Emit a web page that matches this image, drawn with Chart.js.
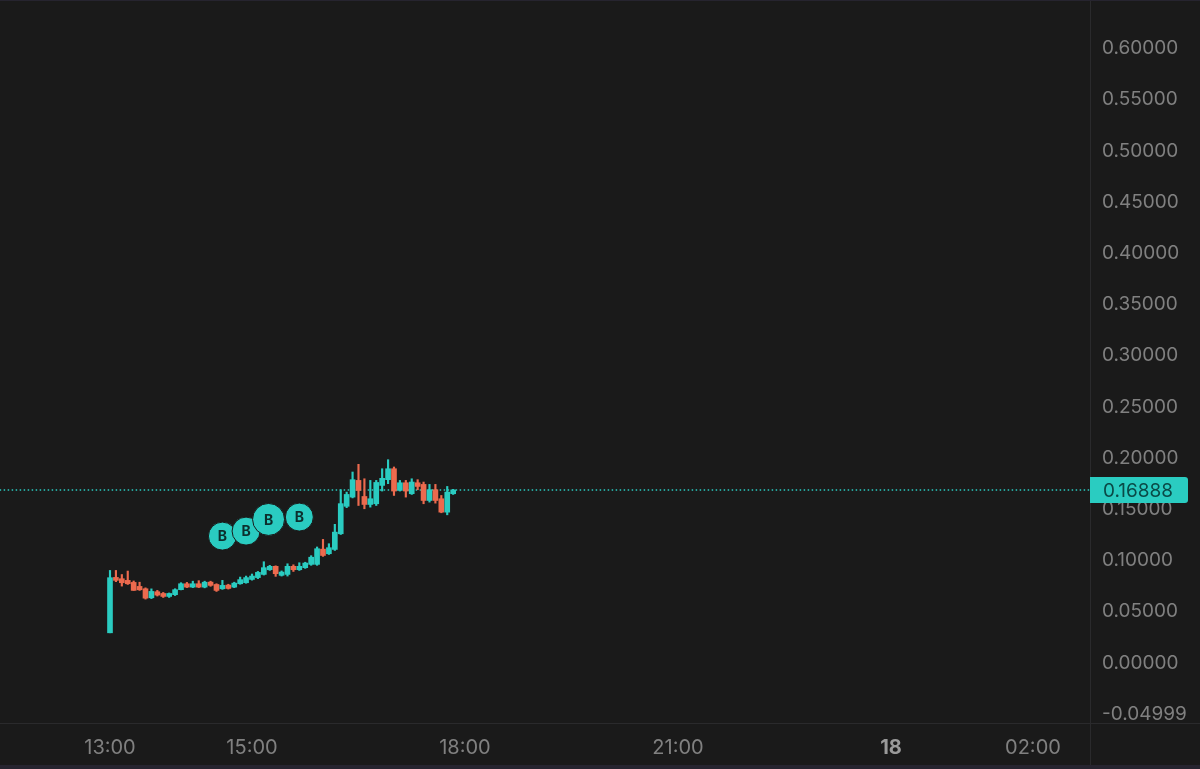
<!DOCTYPE html>
<html>
<head>
<meta charset="utf-8">
<title>Candles</title>
<script src="https://cdn.jsdelivr.net/npm/chart.js@4"></script>
<style>
  html, body { margin: 0; padding: 0; background: #1a1a1a; overflow: hidden; }
  canvas { display: block; }
</style>
</head>
<body>
<canvas id="myChart" width="1200" height="769"></canvas>
<script>
// minutes since midnight, 5 minute candles
const times = [780,785,790,795,800,805,810,815,820,825,830,835,840,845,850,855,860,865,870,875,880,885,890,895,900,905,910,915,920,925,930,935,940,945,950,955,960,965,970,975,980,985,990,995,1000,1005,1010,1015,1020,1025,1030,1035,1040,1045,1050,1055,1060,1065,1070]
const opens = [.0294,.0835,.0822,.0806,.0786,.0747,.0724,.0636,.0695,.0678,.0649,.0666,.0715,.0773,.0740,.0773,.0740,.0789,.0766,.0724,.0760,.0740,.0773,.0783,.0815,.0833,.0864,.0910,.0943,.0855,.0864,.0943,.0910,.0930,.0962,.0962,.1111,.1066,.1108,.1261,.1529,.1619,.1782,.1625,.1547,.1554,.1733,.1789,.1896,.1684,.1759,.1652,.1759,.1743,.1586,.1691,.1603,.1472,.1652]
const highs = [.0903,.0903,.0863,.0897,.0800,.0788,.0733,.0723,.0708,.0688,.0683,.0724,.0783,.0786,.0798,.0803,.0798,.0798,.0773,.0806,.0768,.0788,.0838,.0848,.0868,.0893,.0988,.0953,.0948,.0898,.0968,.0958,.0978,.0983,.1047,.1132,.1206,.1164,.1353,.1691,.1668,.1864,.1939,.1798,.1782,.1782,.1896,.1984,.1913,.1782,.1782,.1798,.1789,.1766,.1743,.1743,.1635,.1723,.1695]
const lows = [.0294,.0793,.0750,.0766,.0708,.0708,.0623,.0628,.0653,.0639,.0639,.0658,.0713,.0735,.0735,.0735,.0733,.0748,.0698,.0718,.0721,.0735,.0768,.0778,.0808,.0823,.0858,.0903,.0845,.0848,.0848,.0893,.0903,.0923,.0953,.0953,.1040,.1059,.1098,.1254,.1516,.1611,.1537,.1505,.1521,.1537,.1678,.1750,.1635,.1678,.1619,.1645,.1691,.1554,.1570,.1560,.1466,.1446,.1645]
const closes = [.0832,.0806,.0783,.0773,.0708,.0714,.0632,.0698,.0662,.0649,.0678,.0715,.0773,.0740,.0773,.0740,.0788,.0757,.0708,.0757,.0727,.0779,.0813,.0833,.0848,.0884,.0930,.0943,.0871,.0887,.0943,.0910,.0943,.0975,.1032,.1115,.1049,.1125,.1277,.1555,.1645,.1789,.1684,.1547,.1603,.1762,.1802,.1896,.1678,.1759,.1678,.1766,.1723,.1586,.1691,.1586,.1472,.1668,.16888]

// buy markers
const buyTimes = [875,895,914,940]
const buyPrices = [.1238,.1287,.1401,.1424]
const buyLabels = ['B','B','B','B']
const buyRadius = [14,14,16,14]

const lastPrice = 0.16888
const lastPriceLabel = '0.16888'
const yTicks = [0.6,0.55,0.5,0.45,0.4,0.35,0.3,0.25,0.2,0.15,0.1,0.05,0,-0.04999]
const xTicks = [780,900,1080,1260,1440,1560]
const xTickLabels = ['13:00','15:00','18:00','21:00','18','02:00']

const UP = '#2accc1'
const DOWN = '#ec6a4e'
const FONT = 'Inter, "Open Sans", sans-serif'

const candleColor = c => (closes[c.dataIndex] >= opens[c.dataIndex] ? UP : DOWN)

// frame lines, price badge and the B letters
const extras = {
  id: 'extras',
  afterDraw(chart) {
    const { ctx, chartArea, scales } = chart
    ctx.save()
    ctx.fillStyle = '#2a2a2c'
    ctx.fillRect(0, chartArea.bottom, 1200, 1)
    ctx.fillRect(chartArea.right, 0, 1, 765)
    ctx.fillStyle = '#26242f'
    ctx.fillRect(0, 0, 1200, 1)
    ctx.fillRect(0, 765, 1200, 4)

    // badge
    const y = scales.y.getPixelForValue(lastPrice)
    ctx.fillStyle = UP
    ctx.beginPath()
    ctx.roundRect(chartArea.right, Math.round(y) - 13, 98, 26, [0, 3, 3, 0])
    ctx.fill()
    ctx.fillStyle = '#0a4a47'
    ctx.font = '19px ' + FONT
    ctx.textAlign = 'left'
    ctx.textBaseline = 'middle'
    ctx.fillText(lastPriceLabel, 1103, y + 1)

    // letters on the buy markers
    ctx.fillStyle = '#0c2f2d'
    ctx.font = 'bold 14px ' + FONT
    ctx.textAlign = 'center'
    chart.getDatasetMeta(3).data.forEach((pt, i) => {
      ctx.fillText(buyLabels[i], pt.x, pt.y + 1)
    })
    ctx.restore()
  }
}

const ctx = document.getElementById('myChart')
const myChart = new Chart(ctx, {
  data: {
    datasets: [{
      type: 'bar',
      data: times.map((t, i) => ({ x: t, y: [lows[i], highs[i]] })),
      backgroundColor: candleColor,
      barThickness: 1.5,
      grouped: false,
      order: 3
    }, {
      type: 'bar',
      data: times.map((t, i) => ({ x: t, y: [opens[i], closes[i]] })),
      backgroundColor: candleColor,
      barThickness: 5,
      grouped: false,
      order: 2
    }, {
      type: 'line',
      data: [{ x: 680, y: lastPrice }, { x: 1620, y: lastPrice }],
      borderColor: UP,
      borderWidth: 1.5,
      borderDash: [1.5, 2.5],
      pointRadius: 0,
      order: 4
    }, {
      type: 'scatter',
      data: buyTimes.map((t, i) => ({ x: t, y: buyPrices[i] })),
      backgroundColor: UP,
      borderColor: '#1a1a1a',
      borderWidth: 1,
      pointRadius: buyRadius,
      pointHoverRadius: buyRadius,
      order: 1
    }]
  },
  options: {
    responsive: false,
    animation: false,
    layout: { padding: 0, autoPadding: false },
    plugins: {
      legend: { display: false },
      tooltip: { enabled: false }
    },
    scales: {
      x: {
        type: 'linear',
        offset: false,
        min: 687.04,
        max: 1608.2,
        grid: { display: false },
        border: { display: false },
        afterBuildTicks: axis => { axis.ticks = xTicks.map(value => ({ value })) },
        afterFit: axis => {
          axis.height = 46
          axis.paddingLeft = 0
          axis.paddingRight = 0
        },
        ticks: {
          autoSkip: false,
          maxRotation: 0,
          padding: 5,
          font: c => ({ family: FONT, size: 20, weight: c.tick && c.tick.value === 1440 ? 'bold' : 'normal' }),
          color: c => (c.tick && c.tick.value === 1440 ? '#9a9a9a' : '#808080'),
          callback: value => xTickLabels[xTicks.indexOf(value)]
        }
      },
      y: {
        position: 'right',
        min: -0.05867,
        max: 0.64726,
        grid: { display: false },
        border: { display: false },
        afterBuildTicks: axis => { axis.ticks = yTicks.map(value => ({ value })) },
        afterFit: axis => {
          axis.width = 110
          axis.paddingTop = 0
          axis.paddingBottom = 0
        },
        ticks: {
          autoSkip: false,
          padding: 4,
          align: 'center',
          crossAlign: 'near',
          font: { family: FONT, size: 19 },
          color: '#808080',
          callback: value => value.toFixed(5)
        }
      }
    }
  },
  plugins: [extras]
})
</script>
</body>
</html>
